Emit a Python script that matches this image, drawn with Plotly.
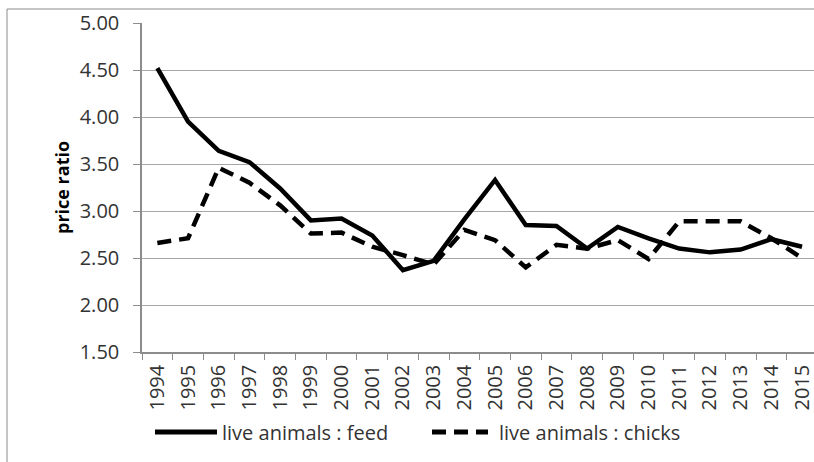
import plotly.graph_objects as go

years = [str(y) for y in range(1994, 2016)]
feed = [4.52, 3.95, 3.64, 3.52, 3.24, 2.90, 2.92, 2.74, 2.37, 2.47, 2.91, 3.33,
        2.85, 2.84, 2.60, 2.83, 2.71, 2.60, 2.56, 2.59, 2.70, 2.62]
chicks = [2.66, 2.71, 3.46, 3.30, 3.06, 2.76, 2.77, 2.62, 2.53, 2.43, 2.80, 2.69,
          2.40, 2.64, 2.60, 2.69, 2.49, 2.89, 2.89, 2.89, 2.71, 2.50]
y_ticks = [1.5, 2.0, 2.5, 3.0, 3.5, 4.0, 4.5, 5.0]
series_names = ["live animals : feed", "live animals : chicks"]

W, H = 814, 462
L, T = 142, 23
B = H - 352
PW = W - L
PH = 352 - T

def px(x):
    return (x - L) / PW

def py(y):
    return (352 - y) / PH

FONT = "Open Sans"
TXT = "#333333"
fig = go.Figure()
fig.add_trace(go.Scatter(x=years, y=feed, mode="lines", name=series_names[0],
                         line=dict(color="black", width=4.5), showlegend=False))
fig.add_trace(go.Scatter(x=years, y=chicks, mode="lines", name=series_names[1],
                         line=dict(color="black", width=4.5, dash="14px,8px"), showlegend=False))

cat_w = 30.7
fig.update_layout(
    width=W, height=H,
    margin=dict(l=L, r=0, t=T, b=B, pad=0),
    paper_bgcolor="white", plot_bgcolor="white",
    font=dict(family=FONT, size=20, color=TXT),
    xaxis=dict(type="category", range=[-0.5, -0.5 + PW / cat_w],
               showline=True, linecolor="#8c8c8c", linewidth=1.5,
               ticks="outside", ticklen=6, tickcolor="#8c8c8c", tickson="boundaries",
               tickangle=-90, showgrid=False, ticklabelstandoff=3,
               tickfont=dict(family=FONT, size=20, color=TXT)),
    yaxis=dict(range=[1.5, 5.0], tickvals=y_ticks, tickformat=".2f",
               showline=True, linecolor="#8c8c8c", linewidth=1.5,
               ticks="outside", ticklen=7, tickcolor="#8c8c8c",
               showgrid=True, gridcolor="#a6a6a6", gridwidth=1.2,
               zeroline=False, ticklabelstandoff=10,
               tickfont=dict(family=FONT, size=20, color=TXT)),
    annotations=[
        dict(text="<b>price ratio</b>", textangle=-90, x=px(62), y=py(188),
             xref="paper", yref="paper", xanchor="center", yanchor="middle",
             showarrow=False, font=dict(family=FONT, size=18, color="black")),
        dict(text=series_names[0], x=px(221), y=py(432), xref="paper", yref="paper",
             xanchor="left", yanchor="middle", showarrow=False, borderpad=0,
             font=dict(family=FONT, size=20, color=TXT)),
        dict(text=series_names[1], x=px(498), y=py(432), xref="paper", yref="paper",
             xanchor="left", yanchor="middle", showarrow=False, borderpad=0,
             font=dict(family=FONT, size=20, color=TXT)),
    ],
    shapes=[
        dict(type="line", xref="paper", yref="paper", x0=px(155), x1=px(217),
             y0=py(432), y1=py(432), line=dict(color="black", width=5)),
        dict(type="line", xref="paper", yref="paper", x0=px(432), x1=px(488),
             y0=py(432), y1=py(432), line=dict(color="black", width=5, dash="14px,8px")),
        dict(type="line", xref="paper", yref="paper", x0=px(7), x1=px(820),
             y0=py(9), y1=py(9), line=dict(color="#8c8c8c", width=1)),
        dict(type="line", xref="paper", yref="paper", x0=px(7), x1=px(7),
             y0=py(9), y1=py(470), line=dict(color="#8c8c8c", width=1)),
    ],
)

fig.write_html("out.html", config={"displayModeBar": False},
               post_script="document.body.style.margin='0';")
